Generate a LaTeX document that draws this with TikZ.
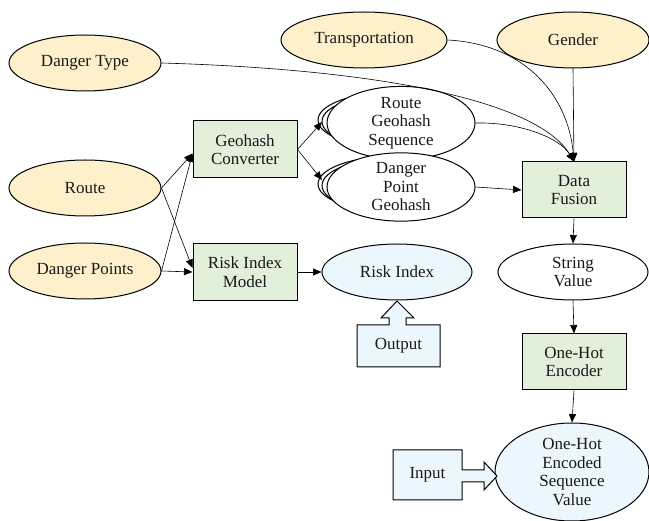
\documentclass[tikz,border=0pt]{standalone}
\usepackage{fontspec}
\setmainfont{LiberationSerif}[Extension=.ttf, UprightFont=*-Regular, BoldFont=*-Bold, ItalicFont=*-Italic]
\usetikzlibrary{arrows.meta,shapes.geometric}
\definecolor{srcfill}{HTML}{FEF0CB}
\definecolor{procfill}{HTML}{E2EFDA}
\definecolor{iofill}{HTML}{EBF7FD}
\begin{document}
\begin{tikzpicture}[x=1pt,y=-1pt,
  lbl/.style={font=\rmfamily\fontsize{17}{18.5}\selectfont, align=center, text=black!90},
  src/.style={lbl, ellipse, draw, line width=1pt, fill=srcfill, minimum width=152, minimum height=56, inner sep=0pt},
  proc/.style={lbl, rectangle, draw, line width=1pt, fill=procfill, minimum width=104, minimum height=57, inner sep=0pt},
  data/.style={lbl, ellipse, draw, line width=1pt, fill=white, minimum width=150, minimum height=56, inner sep=0pt},
  res/.style={data, fill=iofill},
  conn/.style={line width=0.6pt, -{Triangle[length=8.5pt,width=7pt]}},
  blockarrow/.style={draw, line width=1pt, fill=iofill, line join=miter}
]
\useasboundingbox (0,0) rectangle (649,521);

% source inputs
\node[src] (dtype) at (85,63) {Danger Type};
\node[src, minimum width=166] (trans) at (364,40) {Transportation};
\node[src] (gender) at (573,40) {Gender};
\node[src] (route) at (85,188) {Route};
\node[src] (dpts) at (85,271) {Danger Points};

% processing blocks
\node[proc] (geo) at (245,149.5) {Geohash\\Converter};
\node[proc] (riskm) at (245,272) {Risk Index\\Model};
\node[proc, minimum height=56] (fusion) at (574,190) {Data\\Fusion};
\node[proc, minimum height=56] (onehot) at (574,362) {One-Hot\\Encoder};

% stacked geohash sequences
\foreach \dx/\dy in {-8/-3,-4/-1.5}{
  \draw[line width=1pt, fill=white] (400+\dx,123+\dy) ellipse [x radius=74, y radius=27.5];
  \draw[line width=1pt, fill=white] (400+\dx,187+\dy) ellipse [x radius=74, y radius=27.5];
}
\node[data, minimum width=148, minimum height=55] (rgs) at (401,123) {Route\\Geohash\\Sequence};
\node[data, minimum width=148, minimum height=55] (dpg) at (401,187) {Danger\\Point\\Geohash};

% derived values
\node[res] (risk) at (397,272) {Risk Index};
\node[data] (sval) at (573,272) {String\\Value};
\node[res, minimum width=154, minimum height=98] (enc) at (572,472) {One-Hot\\Encoded\\Sequence\\Value};

% output block arrow pointing up at the risk index
\draw[blockarrow] (357,367) -- (357,325) -- (389,325) -- (389,318) -- (381,318) -- (397,301)
  -- (414,318) -- (406,318) -- (406,325) -- (440,325) -- (440,367) -- cycle;
\node[lbl] (out) at (398.5,346) {Output};

% input block arrow pointing right at the encoded value
\draw[blockarrow] (393,450) -- (462,450) -- (462,470) -- (484,470) -- (484,462) -- (497,476)
  -- (484,490) -- (484,482) -- (462,482) -- (462,500) -- (393,500) -- cycle;
\node[lbl] (inp) at (427.5,475) {Input};

% connectors
\draw[conn] (route.east) -- ([yshift=-4pt]geo.west);
\draw[conn] (route.east) -- ([yshift=4pt]riskm.west);
\draw[conn] (dpts.east) -- ([yshift=-4pt]geo.west);
\draw[conn] (dpts.east) -- (riskm.west);
\coordinate (rgsin) at (322,122);
\coordinate (dpgin) at (322,180);
\draw[conn] (geo.east) -- (rgsin);
\draw[conn] (geo.east) -- (dpgin);
\draw[conn] (riskm.east) -- (risk.west);
\draw[conn] (dtype.east) .. controls (400,70) and (540,105) .. (fusion.north);
\draw[conn] (trans.east) .. controls (525,44) and (568,95) .. (fusion.north);
\draw[conn] (rgs.east) .. controls (520,122) and (560,138) .. (fusion.north);
\draw[conn] (gender.south) -- (fusion.north);
\draw[conn] (dpg.east) -- (fusion.west);
\draw[conn] (fusion.south) -- (sval.north);
\draw[conn] (sval.south) -- (onehot.north);
\draw[conn] (onehot.south) -- (enc.north);
\end{tikzpicture}
\end{document}
